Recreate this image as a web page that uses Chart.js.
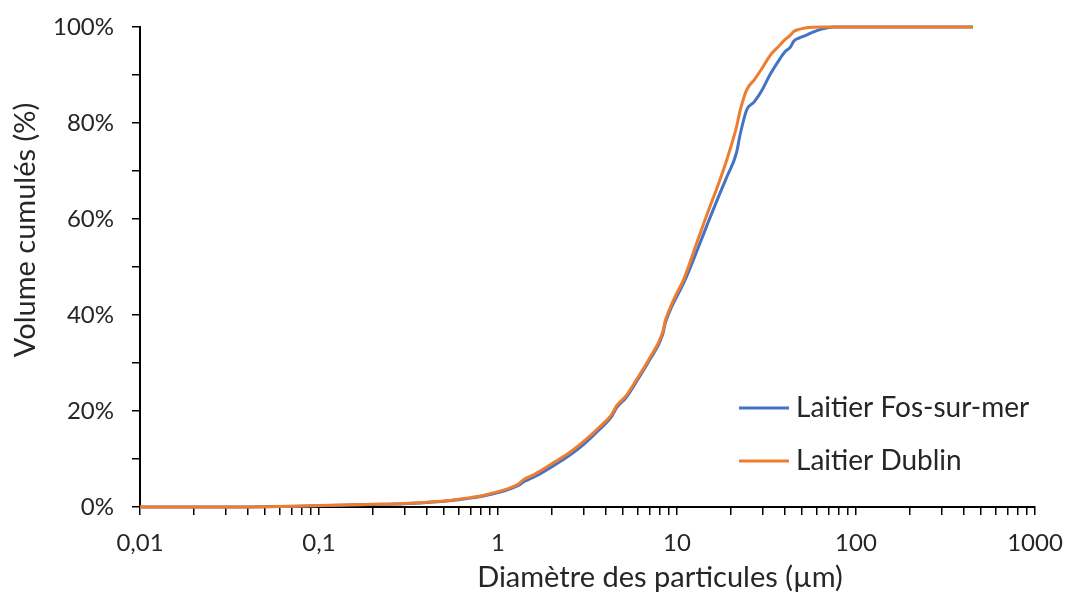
<!DOCTYPE html>
<html>
<head>
<meta charset="utf-8">
<script src="https://cdn.jsdelivr.net/npm/chart.js@4.4.1/dist/chart.umd.min.js"></script>
<style>
  html, body { margin: 0; padding: 0; background: #fff; }
  #wrap { position: relative; width: 1067px; height: 594px; }
</style>
</head>
<body>
<div id="wrap"><canvas id="myCanvas" width="1067" height="594"></canvas></div>
<script>
'use strict';

// particle diameters (µm), shared by both samples
var diam = [0.01, 0.02, 0.04, 0.06, 0.08, 0.1, 0.15, 0.2, 0.3, 0.4, 0.5, 0.6, 0.7, 0.8, 0.9,
  1, 1.15, 1.3, 1.4, 1.6, 2, 2.5, 3, 3.7, 4.3, 4.6, 5.2, 6, 7, 8.3, 8.6, 9, 9.5,
  11, 13, 15, 17, 19, 21.5, 22.5, 24.5, 27, 30, 33, 37, 40, 43, 45, 48, 52, 57, 65, 75, 100, 200, 450];

// cumulative volume (%)
var fos = [0, 0, 0.02, 0.08, 0.18, 0.28, 0.42, 0.52, 0.7, 0.95, 1.2, 1.5, 1.85, 2.2, 2.6,
  3.0, 3.7, 4.5, 5.3, 6.3, 8.4, 10.7, 13.0, 16.2, 18.8, 20.7, 22.8, 26.4, 30.5, 35.8, 38.3, 40.3, 42.3,
  47.0, 53.6, 59.5, 64.5, 68.8, 73.8, 77.5, 82.7, 84.4, 87.0, 90.0, 93.0, 94.8, 95.8, 97.1, 97.7, 98.2, 98.9, 99.6, 100, 100, 100, 100];

var dublin = [0, 0, 0.02, 0.08, 0.2, 0.3, 0.45, 0.55, 0.75, 1.0, 1.25, 1.6, 1.95, 2.3, 2.75,
  3.2, 3.9, 4.8, 5.8, 6.8, 9.0, 11.3, 13.6, 16.7, 19.2, 21.1, 23.2, 26.8, 30.9, 36.3, 38.8, 40.8, 42.9,
  47.8, 55.4, 61.8, 67.2, 72.4, 79.2, 82.5, 86.9, 89.0, 91.5, 94.0, 96.0, 97.3, 98.3, 99.1, 99.5, 99.8, 99.95, 100, 100, 100, 100, 100];

var seriesNames = ['Laitier Fos-sur-mer', 'Laitier Dublin'];
var seriesColors = ['#4472C4', '#ED7D31'];

// axis labels
var xLabels = {0.01: '0,01', 0.1: '0,1', 1: '1', 10: '10', 100: '100', 1000: '1000'};
var yLabels = [0, 20, 40, 60, 80, 100];
var xTitle = 'Diamètre des particules (µm)';
var yTitle = 'Volume cumulés (%)';

var font = 'Lato';
var textColor = '#262626';

function pts(vals) {
  return diam.map(function (d, i) { return { x: d, y: vals[i] }; });
}

// axis titles and the inside legend
var extras = {
  id: 'extras',
  afterDraw: function (chart) {
    var ctx = chart.ctx;
    ctx.save();
    ctx.fillStyle = textColor;
    ctx.font = '29px ' + font;
    ctx.textAlign = 'center';
    ctx.textBaseline = 'middle';
    ctx.fillText(xTitle, 660, 578);
    ctx.translate(26, 230);
    ctx.rotate(-Math.PI / 2);
    ctx.fillText(yTitle, 0, 0);
    ctx.restore();

    ctx.save();
    ctx.font = '28px ' + font;
    ctx.textBaseline = 'middle';
    ctx.lineWidth = 3;
    chart.data.datasets.forEach(function (ds, i) {
      var y = 408 + i * 53;
      ctx.strokeStyle = ds.borderColor;
      ctx.beginPath();
      ctx.moveTo(739, y);
      ctx.lineTo(789, y);
      ctx.stroke();
      ctx.fillStyle = textColor;
      ctx.fillText(ds.label, 796, y);
    });
    ctx.restore();
  }
};

var ctx = document.getElementById('myCanvas').getContext('2d');
var myChart = new Chart(ctx, {
  type: 'line',
  data: {
    datasets: [
      { label: seriesNames[0], data: pts(fos), borderColor: seriesColors[0], order: 1 },
      { label: seriesNames[1], data: pts(dublin), borderColor: seriesColors[1], order: 0 }
    ]
  },
  options: {
    responsive: false,
    animation: false,
    layout: { padding: { top: 27, right: 32, left: 0, bottom: 0 } },
    elements: {
      point: { radius: 0 },
      line: { borderWidth: 3, cubicInterpolationMode: 'monotone', fill: false }
    },
    datasets: { line: { clip: false } },
    plugins: { legend: { display: false }, tooltip: { enabled: false } },
    scales: {
      x: {
        type: 'logarithmic',
        min: 0.01,
        max: 1000,
        afterFit: function (s) { s.height = 87; s.paddingLeft = 0; s.paddingRight = 0; },
        afterBuildTicks: function (s) {
          var t = [];
          for (var e = -2; e <= 2; e++) {
            for (var k = 1; k <= 9; k++) {
              t.push({ value: Number((k * Math.pow(10, e)).toPrecision(3)) });
            }
          }
          t.push({ value: 1000 });
          s.ticks = t;
        },
        grid: { display: true, drawOnChartArea: false, drawTicks: true, tickLength: 8, color: '#000', lineWidth: 1.5 },
        border: { display: true, color: '#000', width: 2 },
        ticks: {
          autoSkip: false,
          maxRotation: 0,
          padding: 14,
          color: textColor,
          font: { family: font, size: 24 },
          callback: function (v) { return xLabels[v] !== undefined ? xLabels[v] : ''; }
        }
      },
      y: {
        type: 'linear',
        min: 0,
        max: 100,
        afterFit: function (s) { s.width = 140; s.paddingTop = 0; s.paddingBottom = 0; },
        grid: { display: true, drawOnChartArea: false, drawTicks: true, tickLength: 8, color: '#000', lineWidth: 1.5 },
        border: { display: true, color: '#000', width: 2 },
        ticks: {
          stepSize: 10,
          padding: 18,
          color: textColor,
          font: { family: font, size: 24 },
          callback: function (v) { return yLabels.indexOf(v) >= 0 ? v + '%' : ''; }
        }
      }
    }
  },
  plugins: [extras]
});
</script>
</body>
</html>
